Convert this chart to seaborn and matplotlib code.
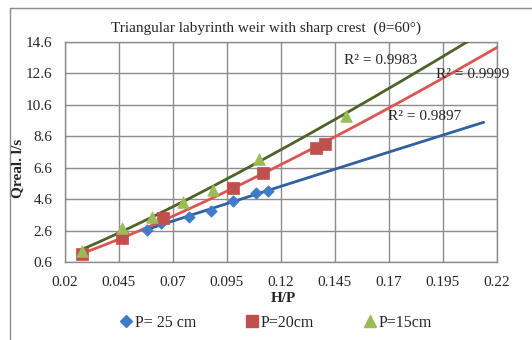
import numpy as np
import pandas as pd
import matplotlib
matplotlib.use("Agg")
import matplotlib.pyplot as plt
import seaborn as sns
from matplotlib.lines import Line2D

# ---- data ----
x_p25 = [0.058, 0.0643, 0.0774, 0.0874, 0.0979, 0.1084, 0.1138]
y_p25 = [2.64, 3.06, 3.49, 3.87, 4.49, 4.97, 5.14]
x_p20 = [0.0277, 0.0462, 0.0655, 0.0979, 0.1115, 0.1362, 0.1404]
y_p20 = [1.12, 2.10, 3.38, 5.33, 6.25, 7.84, 8.12]
x_p15 = [0.0277, 0.0462, 0.0601, 0.0745, 0.0887, 0.110, 0.150]
y_p15 = [1.32, 2.74, 3.49, 4.44, 5.19, 7.15, 9.90]
series_names = ["P= 25 cm", "P=20cm", "P=15cm"]
r2_labels = ["R² = 0.9897", "R² = 0.9999", "R² = 0.9983"]
x_ticks = [0.02, 0.045, 0.07, 0.095, 0.12, 0.145, 0.17, 0.195, 0.22]
y_ticks = [0.6, 2.6, 4.6, 6.6, 8.6, 10.6, 12.6, 14.6]
title = "Triangular labyrinth weir with sharp crest  (θ=60°)"

sns.set_style("white")
plt.rcParams['font.family'] = ['Liberation Serif', 'DejaVu Serif']

W, H = 532, 340
fig = plt.figure(figsize=(W / 100, H / 100), dpi=100)
ax = fig.add_axes([65 / W, 1 - 262 / H, (497 - 65) / W, (262 - 42) / H])

marker_cols = ["#3F7BC8", "#C0504D", "#9BBB59"]
line_cols = ["#2F60A0", "#DB5652", "#4F6228"]
markers = ["D", "s", "^"]
sizes = [34, 80, 70]
xs = [x_p25, x_p20, x_p15]
ys = [y_p25, y_p20, y_p15]

frames = []
for name, xv, yv in zip(series_names, xs, ys):
    frames.append(pd.DataFrame({"x": xv, "y": yv, "series": name}))
df = pd.concat(frames, ignore_index=True)

# trendlines (power fit, extended forward by 0.1)
for i, (name, xv, yv) in enumerate(zip(series_names, xs, ys)):
    b, loga = np.polyfit(np.log(xv), np.log(yv), 1)
    xx = np.linspace(min(xv), max(xv) + 0.1, 200)
    yy = np.exp(loga) * xx ** b
    sns.lineplot(x=xx, y=yy, ax=ax, color=line_cols[i], lw=2.0, zorder=3)

for i, name in enumerate(series_names):
    sub = df[df.series == name]
    sns.scatterplot(data=sub, x="x", y="y", ax=ax, marker=markers[i],
                    s=sizes[i], color=marker_cols[i], edgecolor=marker_cols[i],
                    linewidth=0.5, zorder=4 + i, legend=False)

ax.set_xlim(0.02, 0.22)
ax.set_ylim(0.6, 14.6)
ax.set_xticks(x_ticks)
ax.set_yticks(y_ticks)
ax.set_xticklabels([f"{t:g}" for t in x_ticks])
ax.set_yticklabels([f"{t:g}" for t in y_ticks])
ax.grid(True, color="#8C8C8C", lw=1.0)
for s in ax.spines.values():
    s.set_color("#8C8C8C")
    s.set_linewidth(1.0)
ax.tick_params(axis="both", length=4, width=1.0, color="#8C8C8C",
               labelsize=11, direction="out")
ax.tick_params(axis="y", pad=5)
ax.tick_params(axis="x", pad=6)
ax.set_xlabel("")
ax.set_ylabel("")

fig.text(266 / W, 1 - 28 / H, title, ha="center", va="center", fontsize=11)
fig.text(18 / W, 1 - 168 / H, "Qreal. l/s", rotation=90, ha="center",
         va="center", fontsize=11, fontweight="bold")
fig.text(283 / W, 1 - 298 / H, "H/P", ha="center", va="center",
         fontsize=11, fontweight="bold")

r2_pos = [(388, 116), (436, 74), (344, 60)]
for lab, (px, py) in zip(r2_labels, r2_pos):
    fig.text(px / W, 1 - py / H, lab, ha="left", va="center", fontsize=11)

handles = [Line2D([], [], marker=markers[i], ls="", color=marker_cols[i],
                  markersize=[6, 9, 8][i]) for i in range(3)]
fig.legend(handles, series_names, loc="center", bbox_to_anchor=(275 / W, 1 - 323 / H),
           ncol=3, frameon=False, fontsize=11.5, handletextpad=0.05,
           handlelength=1.0, columnspacing=3.0)

# figure border (left and top)
fig.add_artist(Line2D([10 / W, 10 / W], [0, 1 - 8 / H], transform=fig.transFigure,
                      color="#8C8C8C", lw=1.0))
fig.add_artist(Line2D([10 / W, 1], [1 - 8 / H, 1 - 8 / H], transform=fig.transFigure,
                      color="#8C8C8C", lw=1.0))

fig.savefig("out.png", dpi=100)
